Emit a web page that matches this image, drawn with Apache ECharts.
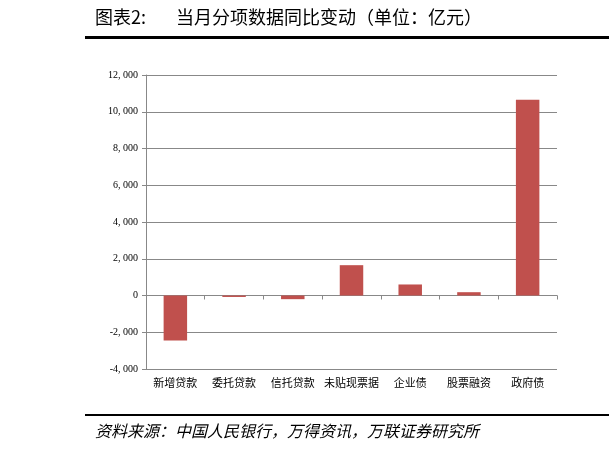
<!DOCTYPE html>
<html>
<head>
<meta charset="UTF-8">
<script src="https://cdn.jsdelivr.net/npm/echarts@6/dist/echarts.min.js"></script>
<style>html,body{margin:0;padding:0;background:#fff}</style>
</head>
<body>
<div id="chart" style="width:609px;height:452px;"></div>
<script>
var categories = ['新增贷款', '委托贷款', '信托贷款', '未贴现票据', '企业债', '股票融资', '政府债'];
var values = [-2450, -80, -200, 1650, 600, 180, 10650];

var chart = echarts.init(document.getElementById('chart'));
var cjk = '"Noto Sans CJK SC", sans-serif';
chart.setOption({
    animation: false,
    grid: {left: 146, right: 52, top: 75, bottom: 83},
    graphic: [
        {type: 'text', left: 95, top: 8, style: {text: '图表2:', font: '18px ' + cjk, fill: '#000'}},
        {type: 'text', left: 176, top: 8, style: {text: '当月分项数据同比变动（单位：亿元）', font: '18px ' + cjk, fill: '#000'}},
        {type: 'rect', shape: {x: 85, y: 36, width: 524, height: 3}, style: {fill: '#000'}},
        {type: 'rect', shape: {x: 85, y: 414, width: 524, height: 2}, style: {fill: '#000'}},
        {type: 'text', left: 95, top: 423, style: {text: '资料来源：中国人民银行，万得资讯，万联证券研究所', font: 'italic 16px ' + cjk, fill: '#000'}}
    ],
    xAxis: {
        type: 'category', data: categories,
        axisLine: {lineStyle: {color: '#888'}},
        axisTick: {show: true, length: 4, lineStyle: {color: '#888'}},
        axisLabel: {interval: 0, color: '#000', fontSize: 11, fontFamily: cjk, margin: 8},
        position: 'bottom'
    },
    yAxis: {
        type: 'value', min: -4000, max: 12000, interval: 2000,
        axisLine: {show: true, lineStyle: {color: '#888'}},
        axisTick: {show: true, length: 4, lineStyle: {color: '#888'}},
        splitLine: {lineStyle: {color: '#888'}},
        axisLabel: {
            color: '#000', fontSize: 10, fontFamily: 'Liberation Serif', margin: 8,
            formatter: function (v) { return v.toLocaleString('en-US').replace(/,/g, ', '); }
        }
    },
    series: [{
        type: 'bar', data: values, barWidth: '40%',
        itemStyle: {color: '#c0504d'}
    }]
});
</script>
</body>
</html>
